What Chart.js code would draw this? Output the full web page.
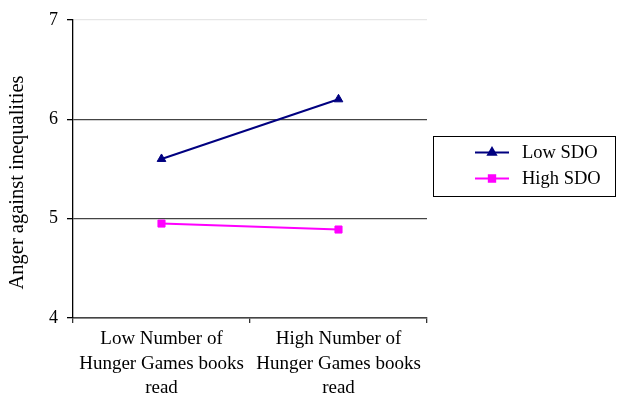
<!DOCTYPE html>
<html>
<head>
<meta charset="utf-8">
<script src="https://cdn.jsdelivr.net/npm/chart.js@4/dist/chart.umd.min.js"></script>
<style>
  html, body { margin: 0; padding: 0; background: #fff; }
  #wrap { width: 618px; height: 394px; position: relative; }
</style>
</head>
<body>
<div id="wrap"><canvas id="c" width="618" height="394"></canvas></div>
<script>
// Categories (number of Hunger Games books read)
const categories = [
  ['Low Number of', 'Hunger Games books', 'read'],
  ['High Number of', 'Hunger Games books', 'read']
];
// Mean anger against inequalities by SDO group
const lowSDO = [5.6, 6.2];
const highSDO = [4.95, 4.89];
const seriesNames = ['Low SDO', 'High SDO'];
const yTicks = [4, 5, 6, 7];
const yTitle = 'Anger against inequalities';

const FONT = "'Liberation Serif', 'Times New Roman', serif";

// Boxed legend drawn to the right of the plot, plus the rotated y-axis title
const boxLegend = {
  id: 'boxLegend',
  afterDraw(chart) {
    const ctx = chart.ctx;
    const left = 433.5, top = 136.5, w = 182, h = 60;
    ctx.save();
    ctx.strokeStyle = '#000';
    ctx.lineWidth = 1;
    ctx.strokeRect(left, top, w, h);
    chart.data.datasets.forEach((ds, i) => {
      const y = 152.5 + i * 26;
      ctx.strokeStyle = ds.borderColor;
      ctx.lineWidth = 2;
      ctx.beginPath();
      ctx.moveTo(475, y);
      ctx.lineTo(509, y);
      ctx.stroke();
      Chart.helpers.drawPoint(ctx, {
        pointStyle: ds.pointStyle, radius: 4.5, borderWidth: 1, rotation: 0
      }, 492, y);
      ctx.fillStyle = ds.borderColor;
      ctx.fill();
      ctx.fillStyle = '#000';
      ctx.font = "18.5px " + FONT;
      ctx.textBaseline = 'middle';
      ctx.textAlign = 'left';
      ctx.fillText(ds.label, 522, y + 1);
    });

    // y-axis title
    ctx.translate(18, 182.5);
    ctx.rotate(-Math.PI / 2);
    ctx.fillStyle = '#000';
    ctx.font = "20.5px " + FONT;
    ctx.textAlign = 'center';
    ctx.textBaseline = 'middle';
    ctx.fillText(yTitle, 0, 0);
    ctx.restore();
  }
};

new Chart(document.getElementById('c'), {
  type: 'line',
  data: {
    labels: categories,
    datasets: [
      {
        label: seriesNames[0],
        data: lowSDO,
        borderColor: '#000080',
        backgroundColor: '#000080',
        borderWidth: 2,
        pointStyle: 'triangle',
        pointRadius: 5,
        pointBorderWidth: 1,
        tension: 0
      },
      {
        label: seriesNames[1],
        data: highSDO,
        borderColor: '#FF00FF',
        backgroundColor: '#FF00FF',
        borderWidth: 2,
        pointStyle: 'rect',
        pointRadius: 5,
        pointBorderWidth: 1,
        tension: 0
      }
    ]
  },
  options: {
    responsive: false,
    animation: false,
    devicePixelRatio: 1,
    layout: { padding: { top: 18, right: 191, left: 0, bottom: 0 } },
    plugins: {
      legend: { display: false },
      tooltip: { enabled: false }
    },
    scales: {
      x: {
        offset: true,
        grid: {
          offset: true,
          drawOnChartArea: false,
          drawTicks: true,
          tickLength: 5,
          tickColor: '#333',
          lineWidth: 1.3
        },
        border: { display: true, color: '#444', width: 1.5 },
        ticks: {
          color: '#000',
          font: { family: FONT, size: 19, lineHeight: 1.29 },
          padding: 4,
          maxRotation: 0,
          autoSkip: false
        },
        afterFit(scale) { scale.height = 76; }
      },
      y: {
        min: 4,
        max: 7,
        afterBuildTicks(scale) { scale.ticks = yTicks.map(v => ({ value: v })); },
        grid: {
          drawTicks: true,
          tickLength: 6,
          color: ctx => (ctx.tick && ctx.tick.value === 7) ? '#e6e6e6' : '#444',
          tickColor: '#000',
          lineWidth: 1.3
        },
        border: { display: true, color: '#000', width: 1.3 },
        ticks: {
          color: '#000',
          font: { family: FONT, size: 18 },
          padding: 9
        },
        title: { display: false },
        afterFit(scale) { scale.width = 73; }
      }
    }
  },
  plugins: [boxLegend]
});
</script>
</body>
</html>
